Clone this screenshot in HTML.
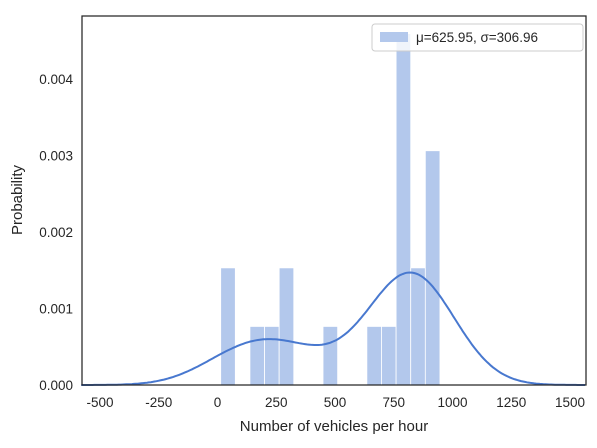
<!DOCTYPE html>
<html><head><meta charset="utf-8"><style>
body{margin:0;background:#fff;font-family:"Liberation Sans","DejaVu Sans",sans-serif;}
svg text{fill:#262626;}
</style></head><body>
<svg id="chart" width="597" height="443">
<rect x="0" y="0" width="597" height="443" fill="#fff"/>
<g id="bars"></g>
<path id="kde" fill="none" stroke="#4878cf" stroke-width="2"/>
<rect x="82" y="16" width="504" height="369" fill="none" stroke="#262626" stroke-width="1.25"/>
<g id="xticks"></g>
<g id="yticks"></g>
<text x="334" y="431" font-size="15" text-anchor="middle">Number of vehicles per hour</text>
<text transform="translate(22,200) rotate(-90)" font-size="15" text-anchor="middle">Probability</text>
<g>
<rect x="372" y="24" width="211" height="27" rx="3" fill="#fff" fill-opacity="0.8" stroke="#ccc"/>
<rect x="380" y="32" width="28" height="10" fill="#b3c8ec"/>
<text x="416" y="42" font-size="13.5">μ=625.95, σ=306.96</text>
</g>
</svg>
<script>
const binStart = 13.6;
const binWidth = 62.2;
const binCounts = [2,0,1,1,2,0,0,1,0,0,1,1,6,2,4];
const xTicks = [-500,-250,0,250,500,750,1000,1250,1500];
const yTicks = [0,0.001,0.002,0.003,0.004];
const yTickLabels = ["0.000","0.001","0.002","0.003","0.004"];
const bandwidth = 167;

const NS="http://www.w3.org/2000/svg";
const X=v=>217.5+v*0.235;
const Y=v=>385-v*76500;
const n=binCounts.reduce((a,b)=>a+b,0);
const bars=document.getElementById('bars');
binCounts.forEach((c,i)=>{
  if(!c) return;
  const d=c/(n*binWidth);
  const r=document.createElementNS(NS,'rect');
  const x0=X(binStart+i*binWidth), x1=X(binStart+(i+1)*binWidth);
  r.setAttribute('x',x0);r.setAttribute('width',x1-x0);
  r.setAttribute('y',Y(d));r.setAttribute('height',385-Y(d));
  r.setAttribute('fill','#b3c8ec');r.setAttribute('stroke','#fff');r.setAttribute('stroke-width','0.8');
  
  
  bars.appendChild(r);
});
// KDE from bin-center samples
const pts=[];
binCounts.forEach((c,i)=>{for(let k=0;k<c;k++)pts.push(binStart+(i+0.5)*binWidth);});
let d='';
for(let v=-580;v<=1568;v+=8){
  let s=0;pts.forEach(p=>{const z=(v-p)/bandwidth;s+=Math.exp(-0.5*z*z);});
  s/=(pts.length*bandwidth*Math.sqrt(2*Math.PI));
  d+=(d?'L':'M')+X(v).toFixed(1)+','+Y(s).toFixed(1);
}
document.getElementById('kde').setAttribute('d',d);
const xt=document.getElementById('xticks');
xTicks.forEach(t=>{
  const tx=document.createElementNS(NS,'text');
  tx.setAttribute('x',X(t));tx.setAttribute('y',407);tx.setAttribute('font-size','13.5');tx.setAttribute('text-anchor','middle');
  tx.textContent=t;
  
  
  xt.appendChild(tx);
});
const yt=document.getElementById('yticks');
yTicks.forEach((t,i)=>{
  const tx=document.createElementNS(NS,'text');
  tx.setAttribute('x',73);tx.setAttribute('y',Y(t)+5);tx.setAttribute('font-size','13.5');tx.setAttribute('text-anchor','end');
  tx.textContent=yTickLabels[i];
  
  
  yt.appendChild(tx);
});
</script>
</body></html>
